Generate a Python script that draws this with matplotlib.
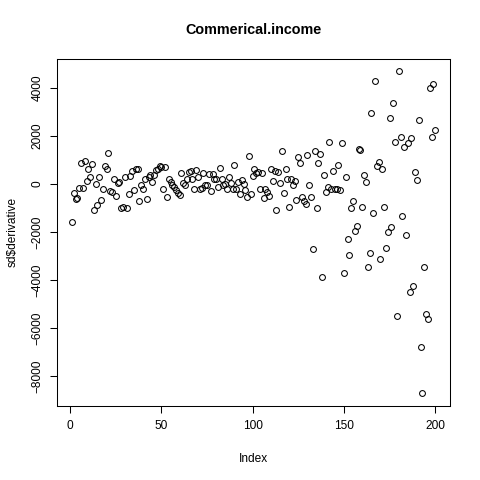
import matplotlib
matplotlib.use("Agg")
import matplotlib.pyplot as plt
import numpy as np

# values (index 1..200)
derivative_a = [
    -1580, -360, -630, -600, -170, 860, -150, 950, 140, 610,
    300, 830, -1080, -10, -890, 300, -670, -190, 750, 610,
    1300, -280, -330, 220, -500, 50, 80, -1000, -950, 280,
    -980, -420, 330, 550, -250, 640, 640, -720, -55, -220,
    200, -610, 280, 390, 80, 360, 580, 640, 750, 720,
    -190, 700, -560, 190, 80, -55, -110, -250, -360, -470,
    445, 55, -55, 220, 500, 555, 220, -220, 580, 305,
    -195, -170, 445, -55, -30, 415, -305, 415, 220, 195,
    -110, 670, 220, -55, 0, -220, 280, 30, -195, 805,
    -195, 80, -415, 170, 0, -250, -555, 1165, -415, 330,
]
derivative_b = [
    610, 470, 500, -220, 470, -580, -195, -330, -500, 640,
    140, 530, -1080, 500, 30, 1360, -360, 610, 220,
    -945, 220, -55, 110, -670, 1140, 860, -530, -720, -835,
    1195, -55, -555, -2720, 1360, -1000, 860, 1250, -3890, 360,
    -330, -140, 1750, -195, 530, -195, -220, 780, -250, 1695,
]
derivative_c = [
    -3695, 280, -2305, -2970, -1000, -720, -1970, -1750, 1445, 1415,
    -945, 360, 80, -3470, -2860, 2970, -1195, 4305, 750, 915,
    -3110, 610, -945, -2665, -2000, 2750, -1780, 3390, 1750, -5500,
    4695, 1970, -1335, 1555, -2140, 1695, -4500, 1915, -4250, 500,
    165, 2670, -6780, -8720, -3445, -5420, -5640, 4000, 1950, 4165,
    2250,
]
derivative = derivative_a + derivative_b + derivative_c
index = np.arange(1, len(derivative) + 1)

x_ticks = [0, 50, 100, 150, 200]
y_ticks = [-8000, -6000, -4000, -2000, 0, 2000, 4000]

plt.rcParams["font.family"] = ["Liberation Sans", "DejaVu Sans"]

fig = plt.figure(figsize=(4.8, 4.8), dpi=100)
ax = fig.add_axes([0.1196, 0.154, 0.8174, 0.724])

ax.plot(index, derivative, linestyle="none", marker="o", markersize=4.2,
        markerfacecolor="none", markeredgecolor="black", markeredgewidth=0.75)

# R style 4% axis extension
def r_lim(v):
    lo, hi = min(v), max(v)
    pad = (hi - lo) * 0.04
    return lo - pad, hi + pad

ax.set_xlim(*r_lim(index))
ax.set_ylim(*r_lim(derivative))
ax.set_xticks(x_ticks)
ax.set_yticks(y_ticks)
ax.tick_params(direction="out", length=5, width=0.75, labelsize=8.6, pad=5)
for lab in ax.get_yticklabels():
    lab.set_rotation(90)
    lab.set_va("center")
for s in ax.spines.values():
    s.set_linewidth(0.75)

ax.set_xlabel("Index", fontsize=8.6, labelpad=15)
ax.set_ylabel("sd$derivative", fontsize=8.6, labelpad=9)
fig.text(0.528, 0.937, "Commerical.income", ha="center", va="center",
         fontsize=10.4, fontweight="bold")

fig.savefig("out.png", dpi=100, facecolor="white")
